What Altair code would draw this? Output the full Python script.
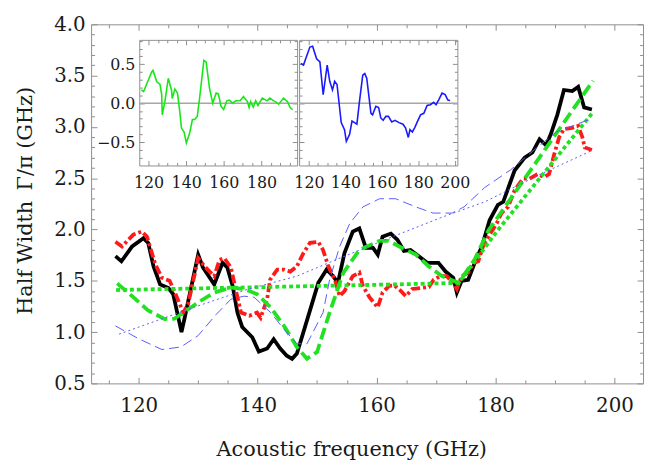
import altair as alt
import pandas as pd

# ---------------- data ----------------
black_f = [116.1, 117.1, 118.9, 120.8, 121.6, 122.5, 123.6, 125.0, 125.8, 127.2, 127.7, 130.0, 130.8,
           132.7, 134.1, 134.9, 135.8, 136.6, 137.4, 139.1, 140.2, 141.6, 142.7, 143.8, 144.9, 145.8,
           146.6, 147.7, 150.2, 151.6, 152.7, 153.5, 154.6, 156.0, 157.1, 158.2, 159.4, 160.2, 161.0,
           162.4, 163.5, 164.6, 165.7, 167.1, 168.5, 170.4, 171.6, 172.9, 173.5, 174.3, 175.4, 176.5,
           177.7, 179.0, 180.4, 181.3, 183.2, 184.9, 186.2, 187.4, 188.5, 189.3, 190.4, 191.5, 192.9,
           193.9, 194.9, 196.2]
black_v = [1.74, 1.69, 1.835, 1.915, 1.87, 1.64, 1.465, 1.43, 1.37, 1.00, 1.13, 1.755, 1.63,
           1.465, 1.675, 1.63, 1.45, 1.19, 1.05, 0.95, 0.81, 0.84, 0.93, 0.84, 0.77, 0.74,
           0.79, 1.00, 1.48, 1.61, 1.545, 1.48, 1.77, 1.98, 2.01, 1.82, 1.82, 1.755, 1.93,
           1.96, 1.90, 1.79, 1.80, 1.74, 1.675, 1.675, 1.59, 1.53, 1.385, 1.50, 1.51, 1.675,
           1.835, 2.09, 2.24, 2.27, 2.575, 2.70, 2.75, 2.88, 2.82, 2.93, 3.12, 3.36, 3.35,
           3.39, 3.19, 3.17]

red_f = [116.1, 117.2, 119.1, 120.5, 121.4, 122.8, 123.9, 125.2, 126.1, 127.5, 128.3, 130.0, 131.1,
         132.7, 133.6, 134.4, 135.5, 136.3, 137.2, 138.6, 139.9, 140.5, 141.6, 142.1, 143.3, 144.4,
         145.5, 146.6, 147.7, 148.8, 150.2, 151.0, 151.9, 153.0, 153.8, 154.6, 156.0, 157.1, 157.7,
         158.8, 160.2, 161.0, 162.1, 163.0, 164.1, 164.9, 166.0, 167.4, 168.8, 169.6, 170.7, 171.8,
         172.9, 173.5, 174.3, 175.4, 176.3, 177.1, 177.9, 179.0, 180.2, 181.0, 182.1, 183.2, 184.6,
         185.7, 187.1, 188.2, 189.0, 189.9, 190.7, 191.5, 192.9, 193.9, 194.6, 195.0, 196.2]
red_v = [1.88, 1.835, 1.95, 1.98, 1.93, 1.66, 1.53, 1.50, 1.385, 1.19, 1.27, 1.72, 1.64,
         1.545, 1.705, 1.72, 1.63, 1.42, 1.19, 1.16, 1.19, 1.14, 1.32, 1.51, 1.61, 1.61,
         1.59, 1.64, 1.77, 1.87, 1.88, 1.80, 1.64, 1.51, 1.35, 1.40, 1.545, 1.58, 1.45,
         1.34, 1.24, 1.385, 1.45, 1.455, 1.40, 1.35, 1.42, 1.43, 1.44, 1.51, 1.545, 1.545,
         1.48, 1.42, 1.545, 1.58, 1.675, 1.69, 1.835, 1.95, 2.06, 2.16, 2.22, 2.38, 2.495,
         2.495, 2.54, 2.51, 2.54, 2.74, 2.90, 2.98, 2.99, 3.01, 2.90, 2.80, 2.775]

gdash_f = [116.4, 118.9, 121.6, 124.4, 126.0, 127.2, 130.0, 132.7, 135.5, 137.7, 139.9, 142.2, 144.4,
           146.6, 148.3, 150.0, 152.1, 154.4, 157.1, 160.5, 162.0, 164.3, 166.6, 168.8, 171.0, 173.8,
           176.5, 178.8, 196.4]
gdash_v = [1.475, 1.35, 1.21, 1.127, 1.13, 1.176, 1.29, 1.385, 1.433, 1.42, 1.37, 1.24, 1.063,
           0.854, 0.741, 0.806, 1.19, 1.578, 1.80, 1.89, 1.89, 1.82, 1.755, 1.64, 1.545, 1.48,
           1.71, 1.99, 3.45]

gdot_f = [116.2, 163.2, 173.8, 180.2, 196.2]
gdot_v = [1.41, 1.465, 1.48, 1.98, 3.13]

bdash_f = [116.1, 120.0, 123.9, 127.1, 130.0, 133.0, 135.5, 137.7, 139.4, 142.2, 144.4, 146.6, 148.3,
           151.0, 152.1, 153.8, 155.5, 157.7, 160.5, 163.2, 166.6, 169.5, 172.7, 174.7, 178.2, 182.5,
           187.0, 190.2, 196.1]
bdash_v = [1.06, 0.935, 0.83, 0.855, 0.966, 1.17, 1.32, 1.35, 1.34, 1.19, 1.03, 0.886, 0.886,
           1.19, 1.51, 1.835, 2.06, 2.22, 2.30, 2.30, 2.22, 2.16, 2.16, 2.22, 2.41, 2.58,
           2.80, 2.95, 3.08]

bdot_f = [116.7, 130.0, 138.3, 146.6, 153.2, 162.7, 171.0, 178.2, 187.6, 196.2]
bdot_v = [0.98, 1.256, 1.417, 1.545, 1.706, 1.93, 2.12, 2.27, 2.54, 2.77]

ins_green_f = [116.2, 117.4, 121.7, 122.4, 124.4, 126.1, 127.0, 127.3, 128.7, 130.5, 132.2, 132.6, 134.0,
               135.4, 136.6, 137.5, 138.9, 140.1, 141.9, 143.3, 144.5, 145.9, 147.1, 149.4, 150.6, 152.4,
               154.1, 155.9, 157.1, 158.5, 159.9, 161.6, 162.9, 164.6, 166.4, 168.7, 170.4, 172.5, 173.4,
               174.2, 175.6, 176.9, 178.1, 180.4, 183.0, 184.4, 186.5, 187.7, 189.1, 191.7, 193.8, 195.2,
               196.5]
ins_green_v = [0.17, 0.15, 0.40, 0.42, 0.275, 0.24, 0.11, -0.15, 0.02, 0.32, 0.17, 0.06, 0.18,
               0.13, -0.105, -0.32, -0.37, -0.51, -0.38, -0.21, -0.21, -0.17, 0.06, 0.55, 0.53, 0.19,
               0.0, 0.13, 0.12, -0.04, -0.08, 0.03, 0.04, 0.0, 0.03, 0.034, 0.085, 0.02, -0.055,
               0.02, -0.05, 0.03, -0.03, 0.065, 0.03, 0.065, 0.03, 0.013, -0.013, 0.065, 0.02, -0.055,
               -0.085]

ins_blue_f = [115.5, 117.0, 120.5, 122.0, 124.2, 126.0, 127.8, 130.0, 131.4, 132.9, 134.1, 135.4, 137.7,
              139.5, 140.5, 142.3, 143.6, 145.0, 146.3, 147.7, 149.5, 150.6, 151.7, 154.0, 154.9, 156.7,
              158.2, 159.4, 160.7, 162.2, 163.6, 165.4, 167.2, 169.4, 171.6, 173.0, 174.5, 175.4, 176.7,
              178.1, 179.4, 181.2, 183.0, 184.8, 186.6, 188.4, 189.7, 191.1, 193.0, 194.7, 196.2, 197.4]
ins_blue_v = [0.51, 0.49, 0.72, 0.73, 0.57, 0.53, 0.11, 0.49, 0.28, 0.17, 0.28, 0.24, -0.25,
              -0.34, -0.49, -0.40, -0.23, -0.25, -0.27, 0.02, 0.36, 0.38, 0.32, -0.13, -0.15, -0.04,
              -0.055, -0.19, -0.22, -0.17, -0.17, -0.24, -0.22, -0.25, -0.27, -0.32, -0.44, -0.34, -0.37,
              -0.31, -0.24, -0.15, -0.13, -0.03, -0.02, 0.01, -0.02, 0.04, 0.13, 0.11, 0.04, 0.035]

# axis ranges and tick positions
main_x_domain = [112.0, 204.8]
main_y_domain = [0.5, 4.0]
main_x_ticks = [120, 140, 160, 180, 200]
main_x_minor = [115, 125, 130, 135, 145, 150, 155, 165, 170, 175, 185, 190, 195]
main_y_ticks = [0.5, 1.0, 1.5, 2.0, 2.5, 3.0, 3.5, 4.0]
main_y_minor = [k / 10 for k in range(6, 40) if k % 5]

p1_x_domain = [115.1, 198.9]
p2_x_domain = [114.6, 201.4]
ins_y_domain = [-0.80, 0.813]
p1_x_ticks = [120, 140, 160, 180]
p2_x_ticks = [120, 140, 160, 180, 200]
ins_x_minor = [125, 130, 135, 145, 150, 155, 165, 170, 175, 185, 190, 195]
ins_y_ticks = [-0.5, 0.0, 0.5]
ins_y_minor = [k / 10 for k in range(-7, 9) if k % 5]

zero_line_1 = pd.DataFrame({"f": p1_x_domain, "v": [0.0, 0.0]})
zero_line_2 = pd.DataFrame({"f": p2_x_domain, "v": [0.0, 0.0]})

x_title = "Acoustic frequency (GHz)"
y_title = "Half Width\u2002\u0393/\u03c0 (GHz)"

# ---------------- layout / style ----------------
W, H = 558, 363
P1 = [48.7, 208.3]       # inset 1 left/right in plot px
P2 = [210.3, 370.3]      # inset 2 left/right in plot px
IY = [142.7, 15.7]       # inset bottom/top in plot px
GRAY = "#8f8f8f"
FONT = "DejaVu Serif"
TXT = "#1a1a1a"
MAJ, MIN = 6, 3.5


def df(f, v):
    return pd.DataFrame({"f": f, "v": v})


def tick_axis(orient, offset, values, size, domain=False):
    return alt.Axis(orient=orient, offset=offset, values=values, tickSize=size, ticks=True,
                    labels=False, domain=domain, grid=False, title=None, tickColor=GRAY,
                    domainColor=GRAY, tickWidth=1, domainWidth=1)


def label_axis(orient, offset, values, size, pad, fmt, **kw):
    return alt.Axis(orient=orient, offset=offset, values=values, ticks=False, tickSize=0,
                    labels=True, domain=True, grid=False, domainColor=GRAY, domainWidth=1,
                    labelFont=FONT, labelFontSize=size, labelColor=TXT, labelPadding=pad,
                    labelFlush=False, labelOverlap=False, format=fmt, **kw)


def line(data, xs, ys, xaxis, yaxis, **mark):
    return alt.Chart(data).mark_line(**mark).encode(
        x=alt.X("f:Q", scale=xs, axis=xaxis),
        y=alt.Y("v:Q", scale=ys, axis=yaxis),
        order=alt.Order("f:Q"),
    )


# ---------------- main panel ----------------
mx = alt.Scale(domain=main_x_domain, nice=False, zero=False)
my = alt.Scale(domain=main_y_domain, nice=False, zero=False)

x_lab = label_axis("bottom", 0, main_x_ticks, 20, 12, "d",
                   title=x_title, titleFont=FONT, titleFontSize=21,
                   titleFontWeight="normal", titleColor=TXT, titleX=263, titleY=73,
                   titleAlign="center", titleBaseline="alphabetic")
y_lab = label_axis("left", 0, main_y_ticks, 20, 6, ".1f",
                   title=y_title, titleFont=FONT, titleFontSize=21,
                   titleFontWeight="normal", titleColor=TXT, titleX=-60, titleY=178,
                   titleAngle=270, titleAlign="center", titleBaseline="alphabetic")

main = alt.layer(
    line(df(black_f, black_v), mx, my, x_lab, y_lab, color="black", strokeWidth=3.8),
    line(df(red_f, red_v), mx, my,
         tick_axis("top", -H, main_x_ticks, MAJ), tick_axis("right", -W, main_y_ticks, MAJ),
         color="#ff1a1a", strokeWidth=3.8, strokeDash=[9, 3, 3, 3]),
    line(df(gdash_f, gdash_v), mx, my,
         tick_axis("top", -H, main_x_minor, MIN), tick_axis("right", -W, main_y_minor, MIN),
         color="#22e022", strokeWidth=3.8, strokeDash=[12, 5]),
    line(df(gdot_f, gdot_v), mx, my,
         tick_axis("bottom", -H, main_x_ticks, MAJ, True), tick_axis("left", -W, main_y_ticks, MAJ, True),
         color="#22e022", strokeWidth=3.8, strokeDash=[4, 3]),
    line(df(bdash_f, bdash_v), mx, my,
         tick_axis("bottom", -H, main_x_minor, MIN), tick_axis("left", -W, main_y_minor, MIN),
         color="#5b5bff", strokeWidth=1, strokeDash=[10, 5]),
    line(df(bdot_f, bdot_v), mx, my, None, None,
         color="#5b5bff", strokeWidth=1, strokeDash=[2, 3]),
).resolve_axis(x="independent", y="independent")


# ---------------- insets ----------------
def inset(data, zero_df, xdom, xr, xticks, color, ylabels):
    xs = alt.Scale(domain=xdom, range=xr, nice=False, zero=False)
    ys = alt.Scale(domain=ins_y_domain, range=IY, nice=False, zero=False)
    xl = label_axis("bottom", IY[0] - H, xticks, 16, 9.5, "d", title=None)
    if ylabels:
        yl = label_axis("left", -xr[0], ins_y_ticks, 16, 4.5, ".1f", title=None)
    else:
        yl = tick_axis("right", xr[0] - W, ins_y_ticks, 0, True)
    ghost = dict(color=color, strokeOpacity=0, strokeWidth=1)
    return alt.layer(
        line(zero_df, xs, ys, xl, yl, color="#a6a6a6", strokeWidth=1.5),
        line(data, xs, ys,
             tick_axis("top", -IY[0], xticks, 5), tick_axis("right", xr[0] - W, ins_y_ticks, 5),
             color=color, strokeWidth=1.6),
        line(data, xs, ys,
             tick_axis("top", -IY[0], ins_x_minor, 3), tick_axis("right", xr[0] - W, ins_y_minor, 3),
             **ghost),
        line(data, xs, ys,
             tick_axis("bottom", IY[1] - H, xticks, 5, True), tick_axis("left", -xr[1], ins_y_ticks, 5, True),
             **ghost),
        line(data, xs, ys,
             tick_axis("bottom", IY[1] - H, ins_x_minor, 3), tick_axis("left", -xr[1], ins_y_minor, 3),
             **ghost),
    ).resolve_axis(x="independent", y="independent")


ins1 = inset(df(ins_green_f, ins_green_v), zero_line_1, p1_x_domain, P1, p1_x_ticks, "#19e619", True)
ins2 = inset(df(ins_blue_f, ins_blue_v), zero_line_2, p2_x_domain, P2, p2_x_ticks, "#1a1aff", False)

chart = alt.layer(main, ins1, ins2).resolve_scale(
    x="independent", y="independent"
).resolve_axis(
    x="independent", y="independent"
).properties(
    width=W, height=H,
    autosize=alt.AutoSizeParams(type="none"),
    padding={"left": 84, "top": 14, "right": 3, "bottom": 79},
    background="white",
).configure_view(strokeWidth=0)

chart.save("out.html", embed_options={"renderer": "svg", "actions": False})
